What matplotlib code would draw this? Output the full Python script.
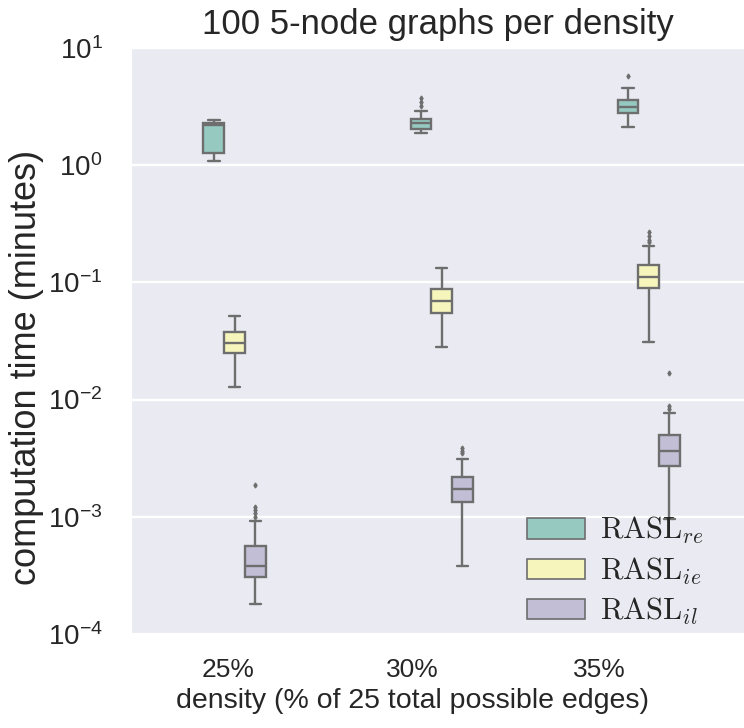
import matplotlib
matplotlib.use("Agg")
import matplotlib.pyplot as plt
from matplotlib.patches import Patch
import seaborn as sns

densities = ["25%", "30%", "35%"]
tick_pos = [-0.03, 0.86, 1.76]
methods = [r"$\mathrm{RASL}_{re}$", r"$\mathrm{RASL}_{ie}$", r"$\mathrm{RASL}_{il}$"]
colors = ["#8dd3c7", "#ffffb3", "#bebada"]

# (whislo, q1, med, q3, whishi) per density, values in minutes
re_stats = [(1.09, 1.27, 2.2, 2.29, 2.43),
            (1.88, 2.04, 2.27, 2.48, 2.90),
            (2.12, 2.79, 3.14, 3.60, 4.56)]
re_fliers = [[], [3.2, 3.46, 3.74], [5.77]]

ie_stats = [(0.0128, 0.0250, 0.0304, 0.0378, 0.0516),
            (0.0281, 0.0548, 0.0694, 0.0879, 0.1327),
            (0.031, 0.0895, 0.111, 0.1407, 0.205)]
ie_fliers = [[], [], [0.221, 0.230, 0.249, 0.269]]

il_stats = [(0.00018, 0.000306, 0.00038, 0.000563, 0.00092),
            (0.00038, 0.00134, 0.00173, 0.00219, 0.00311),
            (0.00095, 0.00271, 0.00364, 0.00499, 0.00769)]
il_fliers = [[0.000995, 0.00108, 0.00114, 0.00121, 0.00187],
             [0.00350, 0.00364, 0.00386],
             [0.0083, 0.00881, 0.01686]]

all_stats = [re_stats, ie_stats, il_stats]
all_fliers = [re_fliers, ie_fliers, il_fliers]

sns.set_style("darkgrid")
plt.rcParams["font.family"] = ["Liberation Sans", "DejaVu Sans"]
plt.rcParams["mathtext.fontset"] = "cm"

fig = plt.figure(figsize=(7.44, 7.28), dpi=100)
ax = fig.add_axes([131 / 744, 1 - 634 / 728, 613 / 744, 586 / 728])

edge = "#6e6e6e"
offsets = [-0.1, 0.0, 0.1]
for k in range(3):
    fill = sns.desaturate(colors[k], 0.75)
    stats = []
    for s, fl in zip(all_stats[k], all_fliers[k]):
        stats.append(dict(whislo=s[0], q1=s[1], med=s[2], q3=s[3], whishi=s[4], fliers=fl))
    pos = [i + offsets[k] for i in range(len(densities))]
    ax.bxp(stats, positions=pos, widths=0.1, patch_artist=True, capwidths=0.055,
           boxprops=dict(facecolor=fill, edgecolor=edge, linewidth=1.7),
           medianprops=dict(color=edge, linewidth=1.7),
           whiskerprops=dict(color=edge, linewidth=1.7),
           capprops=dict(color=edge, linewidth=1.7),
           flierprops=dict(marker="d", markersize=2.5, markerfacecolor=edge,
                           markeredgecolor=edge))

ax.set_yscale("log")
ax.set_ylim(1e-4, 1e1)
ax.set_xlim(-0.5, 2.46)
ax.yaxis.set_minor_locator(matplotlib.ticker.NullLocator())
ax.set_xticks(tick_pos)
ax.set_xticklabels(densities)
ax.grid(axis="x", visible=False)
ax.grid(axis="y", color="white", linewidth=1.7)
ax.tick_params(axis="y", labelsize=20, pad=17)
ax.tick_params(axis="x", labelsize=19, pad=14)

ax.set_title("100 5-node graphs per density", fontsize=25, pad=10)
ax.set_xlabel("density (% of 25 total possible edges)", fontsize=20.5)
ax.xaxis.set_label_coords((412 - 131) / 613, -0.092)
ax.set_ylabel("computation time (minutes)", fontsize=26)
ax.yaxis.set_label_coords(-0.142, 0.455)

handles = [Patch(facecolor=sns.desaturate(c, 0.75), edgecolor=edge, linewidth=1.2) for c in colors]
ax.legend(handles, methods, loc="lower right", frameon=False, fontsize=22,
          handlelength=1.9, handleheight=0.65, labelspacing=0.3, handletextpad=0.5,
          bbox_to_anchor=(0.98, -0.035))

fig.savefig("out.png", dpi=100)
